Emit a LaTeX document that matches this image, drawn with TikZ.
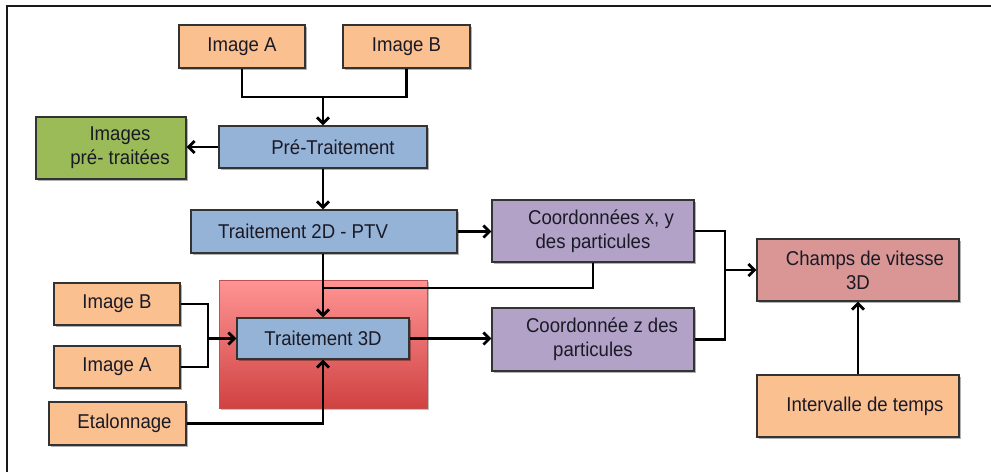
\documentclass[tikz,border=0pt]{standalone}
\usepackage{fontspec}
\setmainfont{Liberation Sans}[FakeStretch=0.93]
\usetikzlibrary{arrows.meta,shadows}
\definecolor{orangebox}{HTML}{FAC090}
\definecolor{bluebox}{HTML}{95B3D7}
\definecolor{greenbox}{HTML}{9BBB59}
\definecolor{purplebox}{HTML}{B3A2C7}
\definecolor{rosebox}{HTML}{D99694}
\definecolor{txt}{HTML}{1A1A26}
\definecolor{redtop}{HTML}{FF9494}
\definecolor{redbot}{HTML}{D04242}
\definecolor{redline}{HTML}{C0504D}
\begin{document}
\begin{tikzpicture}[x=1pt,y=-1pt,
  box/.style={draw=black!80, line width=1.1pt, inner sep=0pt, align=center,
    font=\fontsize{20}{24}\selectfont, text=txt,
    drop shadow={shadow xshift=1.5pt, shadow yshift=-1.5pt, opacity=.3, fill=black}},
  obox/.style={box, fill=orangebox},
  bbox/.style={box, fill=bluebox},
  gbox/.style={box, fill=greenbox},
  pbox/.style={box, fill=purplebox},
  rbox/.style={box, fill=rosebox},
  redbg/.style={draw=redline, line width=0.6pt, top color=redtop, bottom color=redbot,
    drop shadow={shadow xshift=1.5pt, shadow yshift=-1.5pt, opacity=.25, fill=black}},
  conn/.style={line width=2.8pt, black},
  arr/.style={conn, -{Straight Barb[length=6pt,width=12pt]}}]
\useasboundingbox (0,0) rectangle (991,472);
\fill[white] (0,0) rectangle (991,472);
% frame
\draw[line width=2.2pt, black!90] (7,472) -- (7,6) -- (991,6);

% red background
\node[redbg, minimum width=208pt, minimum height=128pt] (bg) at (323,344) {};

% boxes
\node[obox, minimum width=126pt, minimum height=43pt] (ia1) at (242,46.5) {Image A};
\node[obox, minimum width=127pt, minimum height=43pt] (ib1) at (406.5,46.5) {Image B};
\node[bbox, minimum width=208pt, minimum height=42pt] (pre) at (323,147) {\hspace*{20pt}Pré-Traitement};
\node[gbox, minimum width=150pt, minimum height=62pt] (green) at (111,148) {\hspace*{18pt}Images\\\hspace*{18pt}pré- traitées};
\node[bbox, minimum width=266pt, minimum height=43pt] (t2d) at (324,231.5) {Traitement 2D - PTV\hspace*{42pt}};
\node[pbox, minimum width=202pt, minimum height=62pt] (cxy) at (593,231) {\hspace*{16pt}Coordonnées x, y\\des particules};
\node[pbox, minimum width=202pt, minimum height=63pt] (cz) at (593,339.5) {\hspace*{18pt}Coordonnée z des\\particules};
\node[rbox, minimum width=202pt, minimum height=62pt] (champs) at (858,270) {\hspace*{14pt}Champs de vitesse\\3D};
\node[obox, minimum width=202pt, minimum height=62pt] (interv) at (858,406) {\hspace*{14pt}Intervalle de temps};
\node[bbox, minimum width=172pt, minimum height=41pt] (t3d) at (323,338.5) {Traitement 3D};
\node[obox, minimum width=126pt, minimum height=42pt] (ib2) at (117,304) {Image B};
\node[obox, minimum width=126pt, minimum height=42pt] (ia2) at (117,367) {Image A};
\node[obox, minimum width=137pt, minimum height=43pt] (etal) at (117.5,423.5) {\hspace*{14pt}Etalonnage};

% junctions
\coordinate (j1) at (323,97);
\coordinate (j2) at (323,288);
\coordinate (j3) at (725,270);
\coordinate (j4) at (208,338.5);

% connectors
\draw[conn] (ia1.south) |- (j1);
\draw[conn] (ib1.south) |- (j1);
\draw[arr] (j1) -- (pre.north);
\draw[arr] (pre.west) -- (green.east |- pre.west);
\draw[arr] (pre.south) -- (pre.south |- t2d.north);
\draw[arr] (t2d.east) -- (cxy.west |- t2d.east);
\draw[arr] (pre.south |- t2d.south) -- (t3d.north);
\draw[conn] (cxy.south) |- (j2);
\draw[conn] (cxy.east) -| (j3);
\draw[conn] (cz.east) -| (j3);
\draw[arr] (j3) -- (champs.west);
\draw[arr] (interv.north) -- (champs.south);
\draw[conn] (ib2.east) -| (j4);
\draw[conn] (ia2.east) -| (j4);
\draw[arr] (j4) -- (t3d.west);
\draw[arr] (etal.east) -| (t3d.south);
\draw[arr] (t3d.east) -- (t3d.east -| cz.west);
\end{tikzpicture}
\end{document}
